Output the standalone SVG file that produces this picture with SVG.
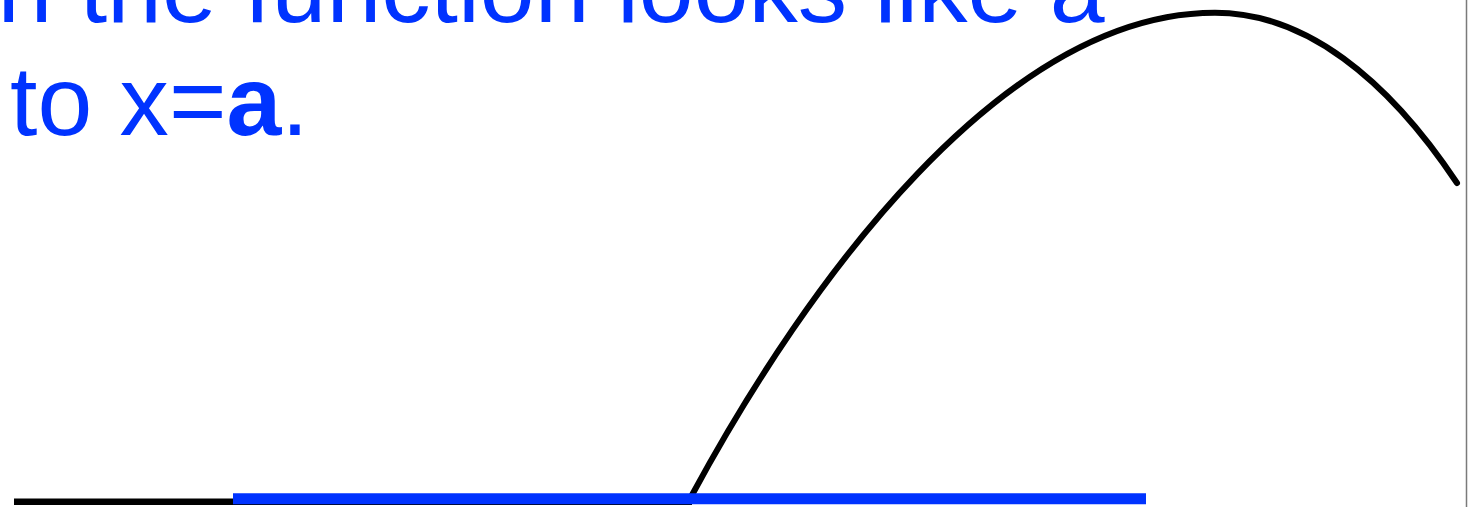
<svg xmlns="http://www.w3.org/2000/svg" width="1468" height="507" viewBox="0 0 1468 507">
  <style>
    .txt { font-family: "Liberation Sans", Arial, sans-serif; font-size: 98.6px; fill: #0033ff; }
    .b { font-weight: bold; }
    .curve { fill: none; stroke: #000000; stroke-width: 6; stroke-linecap: round; }
  </style>
  <rect x="0" y="0" width="1468" height="507" fill="#ffffff"/>
  <line x1="1466.5" y1="0" x2="1466.5" y2="507" stroke="#7a7a7a" stroke-width="1.5"/>
  <g id="caption">
    <text class="txt" x="-2.5" y="22">n the function looks like a</text>
    <text class="txt" x="10" y="135">to x=<tspan class="b">a</tspan>.</text>
  </g>
  <g id="graph">
    <line x1="14" y1="501.7" x2="692" y2="501.7" stroke="#000000" stroke-width="6.5"/>
    <path class="curve" d="M692,495 C807,282.25 1003,12.7 1215,12.7 C1305,12.7 1387,78 1457,183"/>
    <line x1="233" y1="498.8" x2="1146" y2="498.8" stroke="#0033ff" stroke-width="11"/>
  </g>
</svg>
